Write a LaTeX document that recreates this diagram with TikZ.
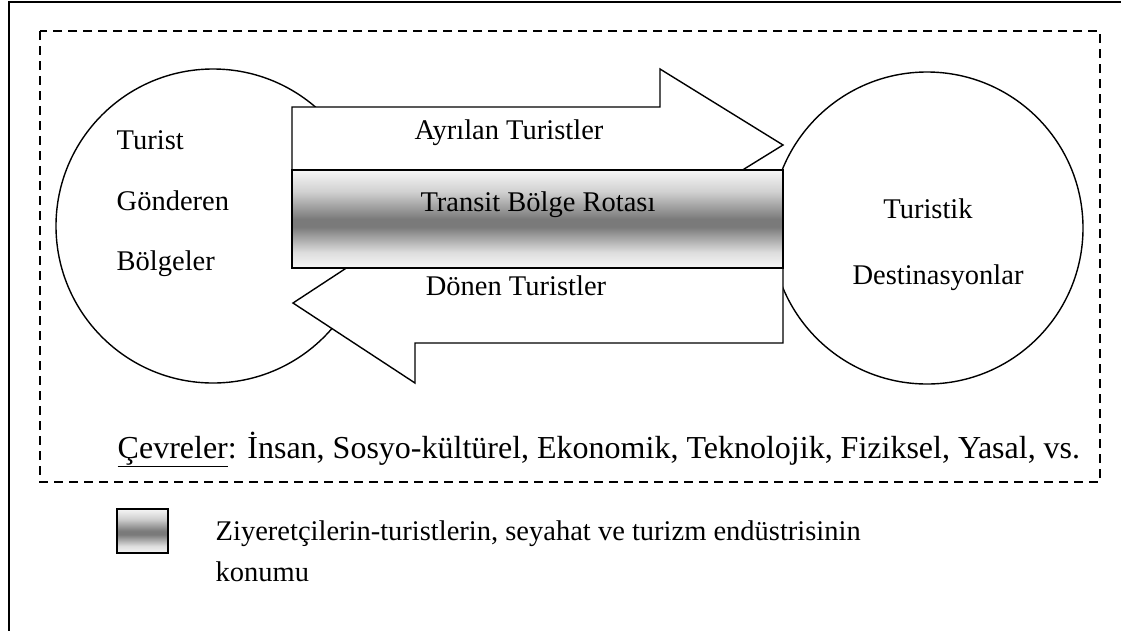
\documentclass[tikz,border=0pt]{standalone}
\usepackage{fontspec}
\setmainfont{Liberation Serif}
\usepackage{tikz}
\usetikzlibrary{positioning}
\definecolor{ln}{HTML}{000000}
\definecolor{dk}{HTML}{7A7A7A}
\definecolor{lt}{HTML}{F6F6F6}
\pgfdeclareverticalshading{rota}{100bp}{color(0bp)=(lt); color(25bp)=(lt); color(33bp)=(lt!80!dk); color(46bp)=(dk); color(50bp)=(dk); color(64bp)=(lt!70!dk); color(75bp)=(lt); color(100bp)=(lt)}

\begin{document}
\begin{tikzpicture}[x=1pt, y=-1pt, line width=1.4pt,
  lbl/.style={font=\fontsize{28.5}{34}\selectfont, inner sep=0pt},
  outl/.style={draw=ln, fill=white, line join=miter},
  band/.style={draw=ln, shading=rota}]
  \useasboundingbox (0,0) rectangle (1121,630);

  % outer frame and environment border
  \draw[line width=2pt] (9,660) -- (9,2) -- (1140,2);
  \draw[dash pattern=on 9pt off 6pt] (40,31) rectangle (1100,482);

  % regions
  \draw[outl] (213,226) circle[radius=157pt];
  \draw[outl] (927,228) circle[radius=156pt];

  % flows
  \draw[outl] (292,107) -- (660,107) -- (660,69) -- (783,145) -- (660,221) -- (660,183) -- (292,183) -- cycle;
  \draw[outl] (783,263) -- (783,343) -- (415,343) -- (415,383) -- (293,303) -- (415,223) -- (415,263) -- cycle;
  \shadedraw[band] (292,170) rectangle (783,268);

  \node[lbl, anchor=base] (ayr) at (509,139) {Ayrılan Turistler};
  \node[lbl, anchor=base] (tra) at (538,211) {Transit Bölge Rotası};
  \node[lbl, anchor=base] (don) at (516,295) {Dönen Turistler};

  \node[lbl, anchor=base west] (tur) at (116,149) {Turist};
  \node[lbl, anchor=base west] (gon) at (116,210) {Gönderen};
  \node[lbl, anchor=base west] (bol) at (116,270) {Bölgeler};

  \node[lbl, anchor=base] (tst) at (928,218) {Turistik};
  \node[lbl, anchor=base] (des) at (938,284) {Destinasyonlar};

  \node[lbl, font=\fontsize{32}{38}\selectfont, anchor=base west] (cev) at (117,458) {\underline{Çevreler}: İnsan, Sosyo-kültürel, Ekonomik, Teknolojik, Fiziksel, Yasal, vs.};

  % legend
  \shadedraw[band] (117,509) rectangle (168,553);
  \node[lbl, anchor=base west] (zi1) at (215,540) {Ziyeretçilerin-turistlerin, seyahat ve turizm endüstrisinin};
  \node[lbl, anchor=base west] (zi2) at (215,581) {konumu};
\end{tikzpicture}
\end{document}
